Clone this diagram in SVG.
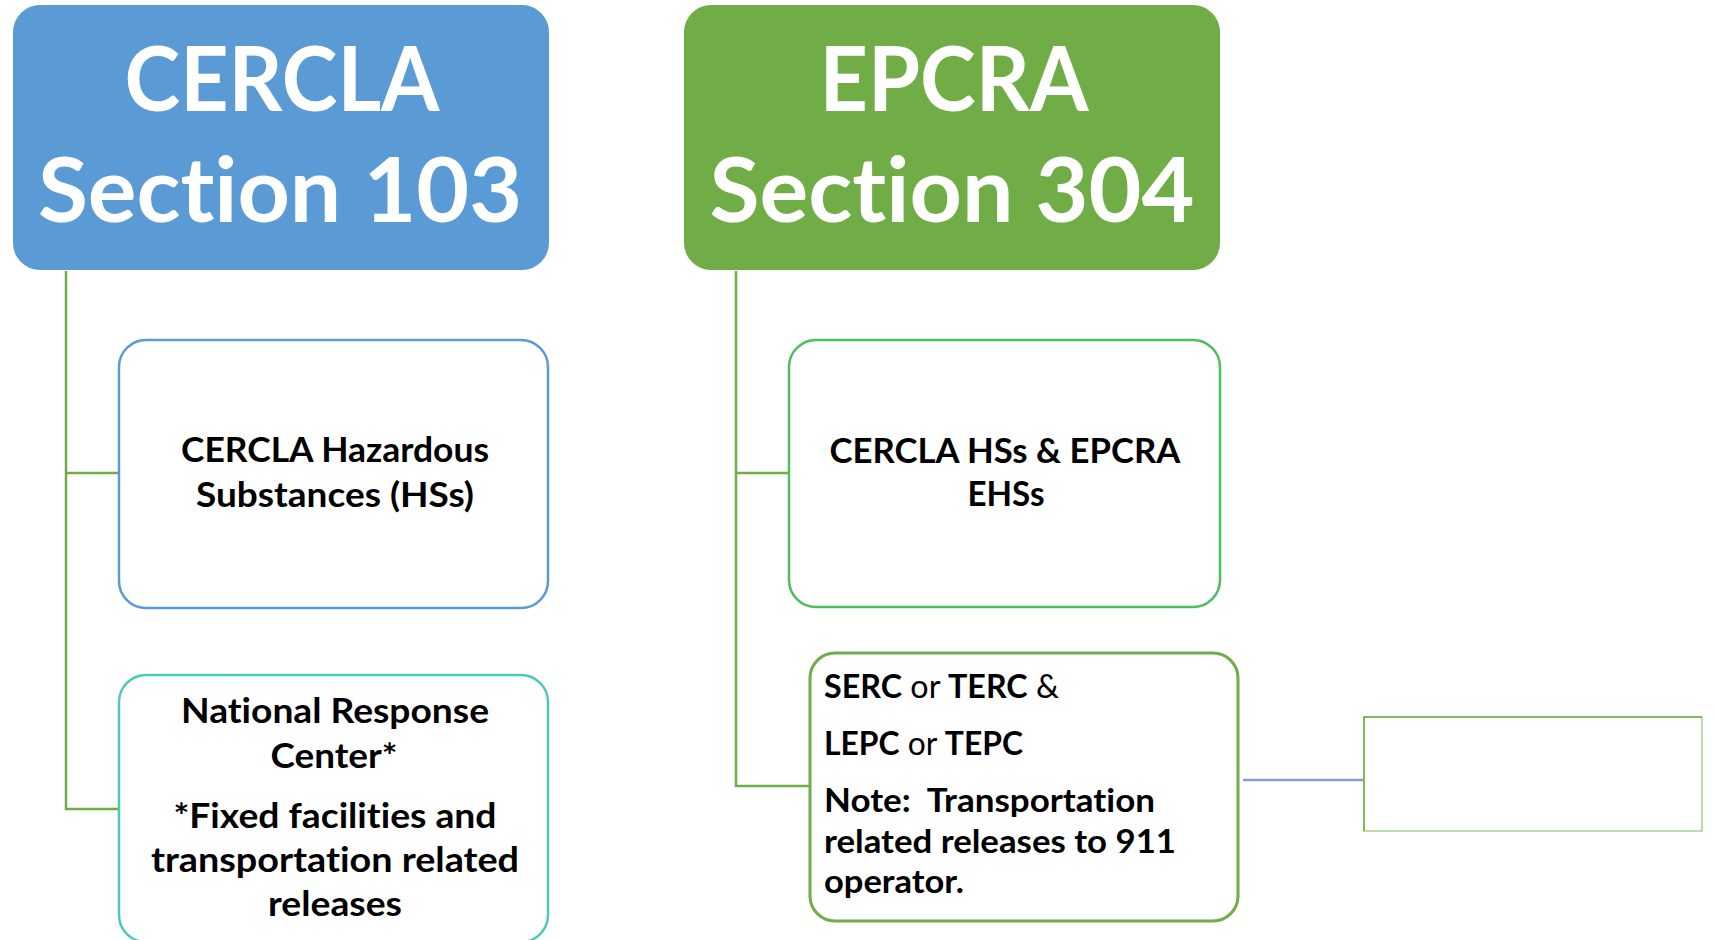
<svg xmlns="http://www.w3.org/2000/svg" width="1714" height="940" viewBox="0 0 1714 940">
<style>
  text { font-variant-ligatures: none; font-feature-settings: "liga" 0, "clig" 0, "dlig" 0, "hlig" 0; }
  .title { font-family: Lato, "Open Sans", "Liberation Sans", sans-serif; font-weight: 700; font-size: 89px; fill: #ffffff; text-anchor: middle; }
  .lbl { font-family: Lato, "Open Sans", "Liberation Sans", sans-serif; font-weight: 700; font-size: 35px; fill: #000000; text-anchor: middle; }
  .lft { font-family: Lato, "Open Sans", "Liberation Sans", sans-serif; font-weight: 700; font-size: 33px; fill: #000000; }
  .reg { font-weight: 400; }
  .conn { stroke: #70AD47; stroke-width: 2.5; fill: none; }
  .conn2 { stroke: #7F9FD8; stroke-width: 2.5; fill: none; }
</style>
<rect width="1714" height="940" fill="#ffffff"/>
<g id="connectors">
  <polyline class="conn" points="66,271 66,809 119,809"/>
  <line class="conn" x1="66" y1="473" x2="119" y2="473"/>
  <polyline class="conn" points="736,271 736,786 810,786"/>
  <line class="conn" x1="736" y1="473" x2="789" y2="473"/>
  <line class="conn2" x1="1243" y1="780" x2="1364" y2="780"/>
</g>
<g id="cercla">
  <rect x="13" y="5" width="536" height="265" rx="27" fill="#5B9BD5"/>
  <text class="title" x="282" y="111" textLength="315" lengthAdjust="spacingAndGlyphs">CERCLA</text>
  <text class="title" x="280" y="222" textLength="484" lengthAdjust="spacingAndGlyphs">Sect&#8204;ion 103</text>
</g>
<g id="epcra">
  <rect x="684" y="5" width="536" height="265" rx="27" fill="#70AD47"/>
  <text class="title" x="954" y="111" textLength="269" lengthAdjust="spacingAndGlyphs">EPCRA</text>
  <text class="title" x="952" y="222" textLength="485" lengthAdjust="spacingAndGlyphs">Sect&#8204;ion 304</text>
</g>
<g id="cercla-hs">
  <rect x="119" y="340" width="429" height="268" rx="27" fill="#ffffff" stroke="#5B9BD5" stroke-width="2.5"/>
  <text class="lbl" x="335" y="462" textLength="308" lengthAdjust="spacingAndGlyphs">CERCLA Hazardous</text>
  <text class="lbl" x="335" y="507" textLength="278" lengthAdjust="spacingAndGlyphs">Substances (HSs)</text>
</g>
<g id="nrc">
  <rect x="119" y="675" width="429" height="267" rx="27" fill="#ffffff" stroke="#4FC9B7" stroke-width="2.5"/>
  <text class="lbl" x="335" y="723" textLength="308" lengthAdjust="spacingAndGlyphs">National Response</text>
  <text class="lbl" x="334" y="768" textLength="127" lengthAdjust="spacingAndGlyphs">Center*</text>
  <text class="lbl" x="335" y="828" textLength="323" lengthAdjust="spacingAndGlyphs">*Fixed facilities and</text>
  <text class="lbl" x="335" y="872" textLength="368" lengthAdjust="spacingAndGlyphs">transportation related</text>
  <text class="lbl" x="335" y="916" textLength="134" lengthAdjust="spacingAndGlyphs">releases</text>
</g>
<g id="epcra-hs">
  <rect x="789" y="340" width="431" height="267" rx="27" fill="#ffffff" stroke="#4EBE5E" stroke-width="2.5"/>
  <text class="lbl" x="1005" y="463" textLength="351" lengthAdjust="spacingAndGlyphs">CERCLA HSs &amp; EPCRA</text>
  <text class="lbl" x="1006" y="506" textLength="77" lengthAdjust="spacingAndGlyphs">EHSs</text>
</g>
<g id="serc">
  <rect x="810" y="653" width="428" height="268" rx="25" fill="#ffffff" stroke="#70AD47" stroke-width="3"/>
  <text class="lft" x="824" y="698" textLength="235" lengthAdjust="spacingAndGlyphs">SERC<tspan class="reg"> or </tspan>TERC<tspan class="reg"> &amp;</tspan></text>
  <text class="lft" x="824" y="755" textLength="199" lengthAdjust="spacingAndGlyphs">LEPC<tspan class="reg"> or </tspan>TEPC</text>
  <text class="lft" x="824" y="812" textLength="331" lengthAdjust="spacingAndGlyphs" xml:space="preserve">Note:  Transportation</text>
  <text class="lft" x="824" y="853" textLength="352" lengthAdjust="spacingAndGlyphs">related releases to 911</text>
  <text class="lft" x="824" y="893" textLength="140" lengthAdjust="spacingAndGlyphs">operator.</text>
</g>
<g id="empty-box">
  <rect x="1364" y="717" width="338" height="114" fill="#ffffff" stroke="#A9D18E" stroke-width="1.5"/>
  <polyline points="1364,831 1364,717 1702,717" fill="none" stroke="#70AD47" stroke-width="1.5"/>
</g>
</svg>
